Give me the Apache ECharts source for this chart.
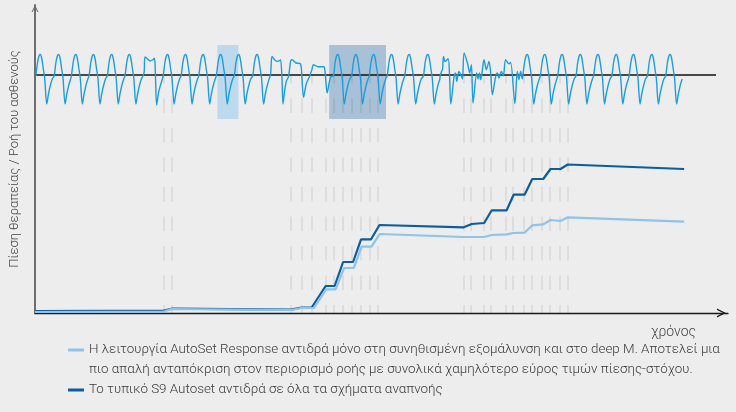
<!DOCTYPE html>
<html lang="el">
<head>
    <meta charset="UTF-8">
    <title>AutoSet Response</title>
    <script src="https://cdn.jsdelivr.net/npm/echarts@6/dist/echarts.min.js"></script>
    <style>
        html, body { margin: 0; padding: 0; background: #ededed; }
        #main { width: 736px; height: 412px; }
    </style>
</head>
<body>
<div id="main"></div>
<script>
    // time in arbitrary units (0..695), pressure 0..308, flow -238..70 (same scale)
    var seriesNames = ['AutoSet Response', 'S9 Autoset'];
    var legendLines = [
        ['Η λειτουργία AutoSet Response αντιδρά μόνο στη συνηθισμένη εξομάλυνση και στο deep M. Αποτελεί μια',
         'πιο απαλή ανταπόκριση στον περιορισμό ροής με συνολικά χαμηλότερο εύρος τιμών πίεσης-στόχου.'],
        ['Το τυπικό S9 Autoset αντιδρά σε όλα τα σχήματα αναπνοής']
    ];
    var yName = 'Πίεση θεραπείας / Ροή του ασθενούς';
    var xName = 'χρόνος';

    // therapy pressure, [time, pressure]
    var pressureResponse = [
        [0, 1], [129, 1.5], [137, 4], [256.5, 3], [267.5, 5], [279.7, 5],
        [292, 23.7], [301.5, 23.7], [310, 45], [319.7, 45], [327.5, 66.3], [337.5, 66.3],
        [345.7, 79], [430, 76], [450.3, 76], [458, 78], [473, 78.7], [479.7, 80],
        [491, 80.3], [498.7, 87.7], [509.7, 88.7], [517, 93], [527, 92], [534.3, 95.7],
        [651, 91.3]
    ];
    var pressureS9 = [
        [0, 2], [129, 2.5], [137, 4.3], [256.5, 3.3], [267.5, 5.5], [277.5, 5.5],
        [291.5, 27], [300.5, 27], [309, 51], [319, 51], [327, 73.7], [337, 73.7],
        [345.5, 88], [430, 85.7], [438, 89], [450.5, 90], [458, 102.7], [473, 102.7],
        [480, 118.3], [491, 118.3], [498.7, 134], [509.7, 134], [517, 144], [527, 144],
        [534.3, 148.5], [651, 144]
    ];

    // patient flow: one normal breath (offsets from its peak) and the peak times
    var breathShape = [
        [-4.5, -1], [-2.8, 12], [-1.3, 19], [0, 20.5], [1.4, 17], [3.2, 5],
        [4.4, -3], [6.5, -29], [8.2, -19], [10.2, -10], [12, -4]
    ];
    var normalPeaks = [
        5.3, 23.7, 41, 58.7, 77, 94.7, 133, 151, 168.7, 186.3, 204.3, 222.8,
        303.7, 322, 339.7, 357.7, 375.3, 394,
        493.7, 511.3, 528.7, 547, 564.7, 583, 600.3, 618.7, 637
    ];
    // flow limited and irregular breaths, [time, flow]
    var limitedBreaths = [
        [[108, -1.5], [109.5, 3], [110.3, 18], [113, 16], [115.3, 14], [117.7, 15], [119.7, 16.7],
         [120.6, 5], [122, -30], [124, -17], [126.5, -8]],
        [[236.3, 1], [237.7, 18.6], [240.3, 15.3], [243, 13.6], [245.3, 14.3], [246.3, 15.3],
         [247.7, -3], [248.7, -29], [250.3, -16.4], [252, -6.4], [254.3, -1.4]],
        [[256.3, 13.6], [257.7, 15.3], [262, 12], [266.3, 11], [267.7, -3], [269.3, -22.4],
         [272, -9], [275.3, -1.4]],
        [[277.7, 5.3], [279.3, 10.3], [283.7, 8.3], [288.7, 8.3], [290.3, 7.6], [291.7, -6.4],
         [293, -18], [295.3, -6.4], [297, -1.4]],
        [[406.3, -1.4], [407.7, 3.6], [408.7, 5.3], [409.7, 18.6], [411.3, 13.6], [414.3, 16.3],
         [415.7, 0.3], [417, -29], [420.3, -1.4], [421.7, 2], [423, -6.4], [425, 3.6], [427, 0.3],
         [428.7, -4], [430.3, 22], [433.7, 12], [436, 2], [437.7, 10.3], [439.3, -28], [443, 2],
         [444.3, -4], [445.7, 2], [447, -4.7], [448.3, 2], [450.3, 15.3], [452.7, 5.3],
         [455.3, 13.6], [457, 2], [458.7, -19.7], [462, -1.4], [463.7, 2], [465.3, -3],
         [467.7, 3.6], [469.7, -0.7], [472, 15.3], [475.3, 11.3], [477, 12.6], [481.3, -28.7],
         [483.7, 3.6], [485.3, -4.7], [487, 3.6], [488.7, -4]]
    ];
    var flowEnd = 683;

    // event markers (time) and highlighted periods [start, end]
    var eventTimes = [
        129, 137, 256.5, 267.5, 277.5, 291.5, 300, 308.5, 318, 326.3, 336, 344,
        429.5, 437.5, 449.7, 456.7, 472, 478.7, 490, 497.7, 508.7, 516, 526.5, 534
    ];
    var highlights = [[183, 204], [295, 352]];
    var highlightColors = ['#bdd9ee', '#a8c1d6'];

    var flow = [];
    normalPeaks.forEach(function (p) {
        breathShape.forEach(function (s) { flow.push([p + s[0], s[1]]); });
    });
    limitedBreaths.forEach(function (b) { flow = flow.concat(b); });
    flow.sort(function (a, b) { return a[0] - b[0]; });

    var chevron = 'path://M0,10 L5,0 L10,10 L8.4,10 L5,3.2 L1.6,10 Z';
    var font = "Roboto, 'Noto Sans', sans-serif";

    var option = {
        backgroundColor: '#ededed',
        animation: false,
        grid: { left: 33, right: 8, top: 5, bottom: 99 },
        legend: {
            data: seriesNames,
            orient: 'vertical',
            left: 68,
            top: 324,
            padding: 0,
            itemGap: 7,
            itemWidth: 16,
            itemHeight: 3,
            icon: 'rect',
            selectedMode: false,
            formatter: function (name) {
                var i = seriesNames.indexOf(name);
                if (i === 0) {
                    return '{e| }\n{t|' + legendLines[0][0] + '}\n{t|' + legendLines[0][1] + '}';
                }
                return '{t|' + legendLines[1][0] + '}';
            },
            textStyle: {
                fontFamily: font,
                rich: {
                    e: { lineHeight: 20, fontSize: 12 },
                    t: { lineHeight: 20, fontSize: 13.4, fontWeight: 300, color: '#3a3a3a', fontFamily: font }
                }
            }
        },
        xAxis: {
            type: 'value',
            min: 0,
            max: 695,
            name: xName,
            nameLocation: 'end',
            nameGap: -77,
            nameTextStyle: { color: '#444', fontSize: 14, fontWeight: 300, fontFamily: font, verticalAlign: 'top', padding: [12, 0, 0, 0] },
            axisLine: {
                onZero: false,
                symbol: ['none', chevron],
                symbolSize: [9, 13],
                symbolOffset: [0, -6.5],
                lineStyle: { color: '#1a1a1a', width: 1.3 }
            },
            axisTick: { show: false },
            axisLabel: { show: false },
            splitLine: { show: false }
        },
        yAxis: [{
            type: 'value',
            min: 0,
            max: 308,
            name: yName,
            nameLocation: 'middle',
            nameGap: 14,
            nameRotate: 90,
            nameTextStyle: { color: '#444', fontSize: 13, fontWeight: 300, fontFamily: font },
            axisLine: {
                show: true,
                symbol: ['none', chevron],
                symbolSize: [9, 7],
                symbolOffset: [0, -3.5],
                lineStyle: { color: '#6e6e6e', width: 2 }
            },
            axisTick: { show: false },
            axisLabel: { show: false },
            splitLine: { show: false }
        }, {
            type: 'value',
            min: -238,
            max: 70,
            show: false,
            splitLine: { show: false }
        }],
        series: [{
            name: 'zero',
            type: 'line',
            yAxisIndex: 1,
            z: 3,
            symbol: 'none',
            silent: true,
            data: [[0, 0], [flowEnd, 0]],
            lineStyle: { color: '#111', width: 1.5 },
            markArea: {
                silent: true,
                z: 1,
                data: highlights.map(function (h, i) {
                    return [{ coord: [h[0], 30], itemStyle: { color: highlightColors[i] } },
                            { coord: [h[1], -44] }];
                })
            }
        }, {
            name: 'flow',
            type: 'line',
            yAxisIndex: 1,
            z: 4,
            symbol: 'none',
            smooth: 0.3,
            data: flow,
            lineStyle: { color: '#1b9ddf', width: 1.4 },
            markLine: {
                silent: true,
                z: 2,
                symbol: ['none', 'none'],
                label: { show: false },
                lineStyle: { color: 'rgba(0,0,0,0.09)', width: 1.5, type: [14.5, 15], dashOffset: 7 },
                data: eventTimes.map(function (t) {
                    return [{ coord: [t, -1] }, { coord: [t, -238] }];
                })
            }
        }, {
            name: seriesNames[1],
            type: 'line',
            z: 5,
            symbol: 'none',
            data: pressureS9,
            color: '#0b5d9e',
            lineStyle: { color: '#0b5d9e', width: 2.2 }
        }, {
            name: seriesNames[0],
            type: 'line',
            z: 6,
            symbol: 'none',
            data: pressureResponse,
            color: '#8fc3ea',
            lineStyle: { color: '#8fc3ea', width: 2.2 }
        }]
    };

    var myChart = echarts.init(document.getElementById('main'));
    myChart.setOption(option);
</script>
</body>
</html>
